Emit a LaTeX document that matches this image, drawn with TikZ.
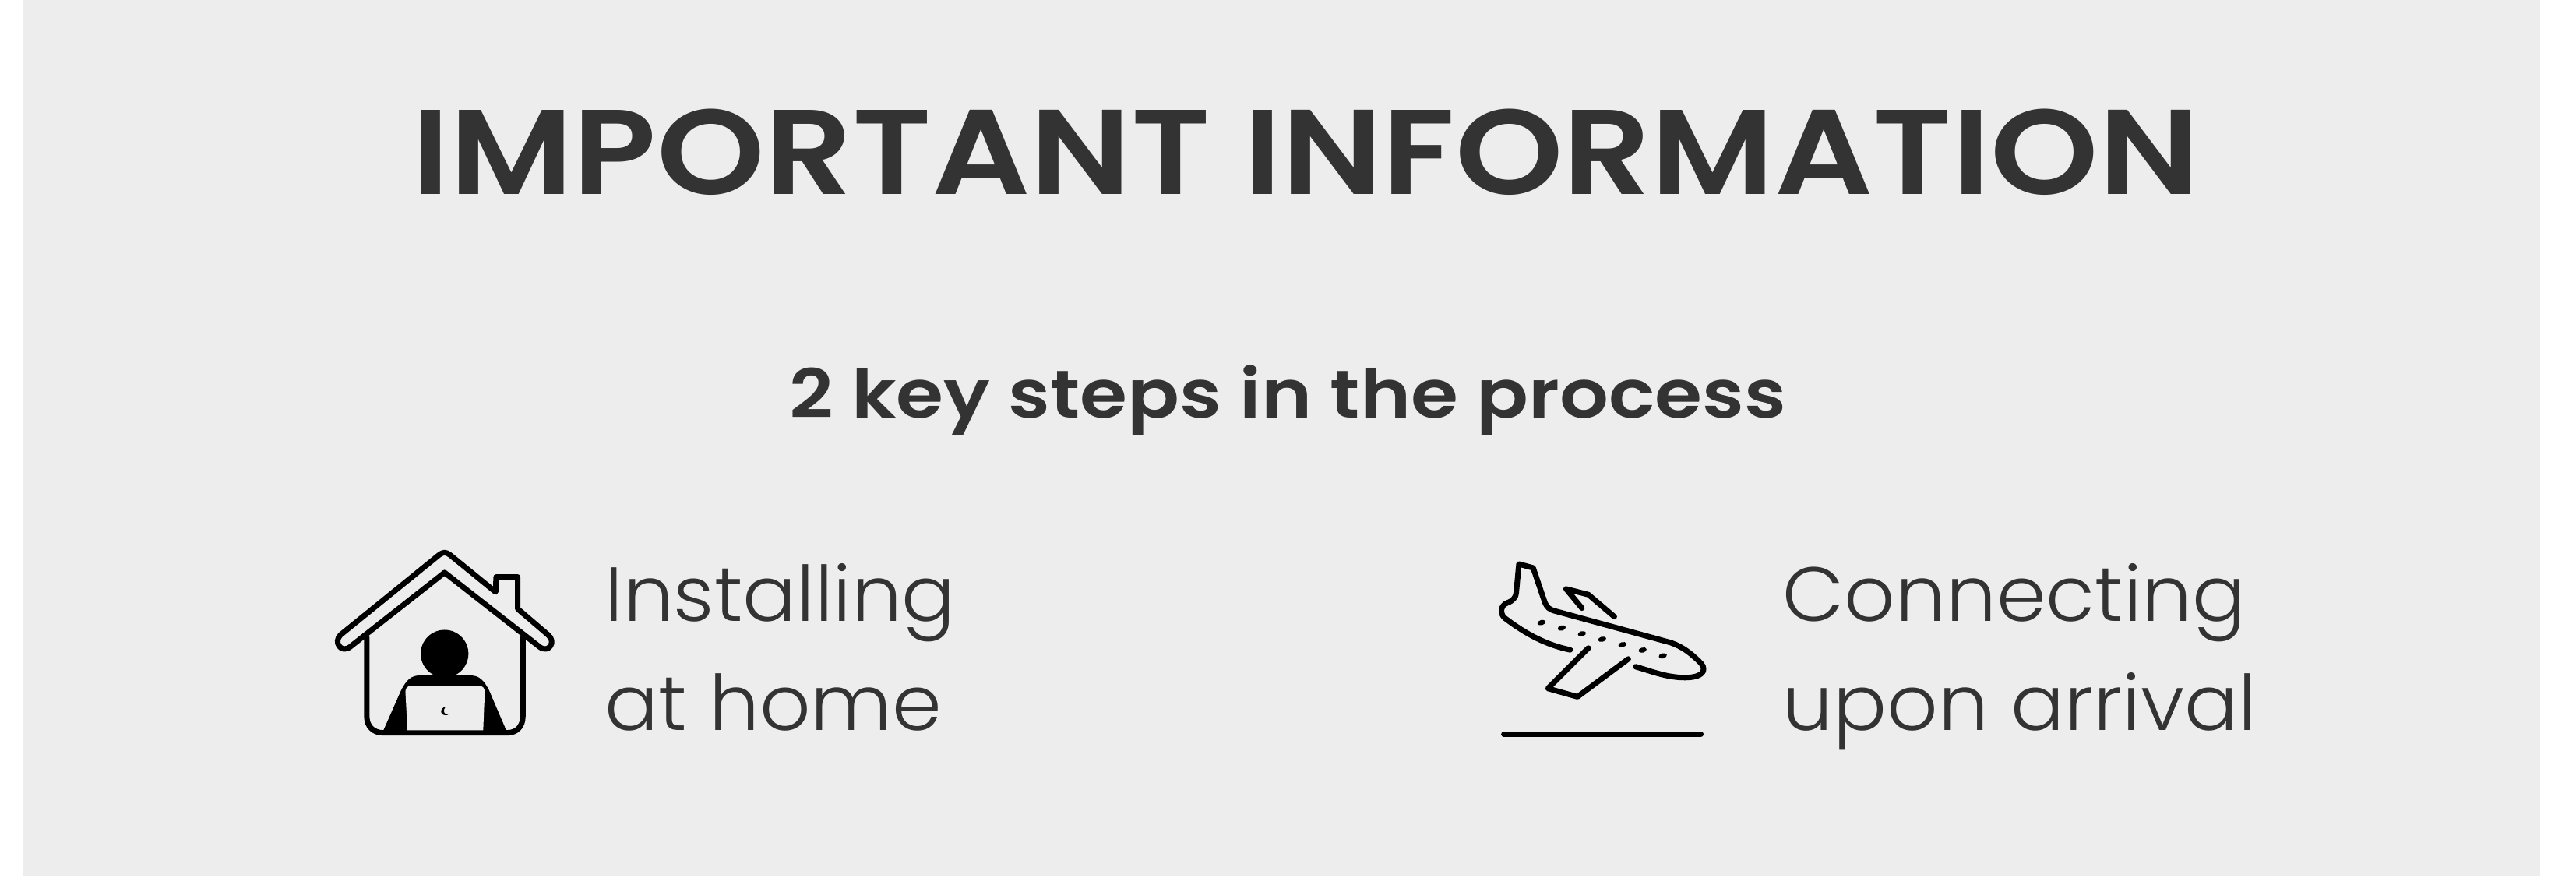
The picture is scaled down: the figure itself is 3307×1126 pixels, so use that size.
\documentclass[tikz,border=0pt]{standalone}
\usepackage{fontspec}
\setmainfont{Poppins}
\newfontfamily\lightfont[FakeStretch=1.04]{Poppins Light}
\newfontfamily\boldfont[FakeStretch=1.14]{Poppins SemiBold}
\definecolor{panel}{HTML}{EDEDED}
\definecolor{ink}{HTML}{333333}
\tikzset{
  titlelabel/.style={text=ink,inner sep=0pt,anchor=base,font=\boldfont\fontsize{44}{50}\selectfont},
  headlabel/.style={text=ink,inner sep=0pt,anchor=base,font=\boldfont\fontsize{24.6}{30}\selectfont},
  steplabel/.style={text=ink,inner sep=0pt,anchor=base west,font=\lightfont\fontsize{28}{39}\selectfont},
  iconline/.style={draw=black,line width=2pt,line cap=round,line join=round},
  iconshift/.style={x=0.003333cm,y=-0.003333cm}
}
\begin{document}
\begin{tikzpicture}[x=0.01cm,y=-0.01cm]
\useasboundingbox (0,0) rectangle (3307,1126);
\fill[panel] (29,0) rectangle (3261,1124);
\node[titlelabel] (title) at (1676,249) {IMPORTANT INFORMATION};
\node[headlabel] (head) at (1653,536) {2 key steps in the process};
% house
\begin{scope}[shift={(400,680)},iconshift]
\draw[iconline] (492,97) .. controls (508,85) and (518,85) .. (534,97) -- (710,240) -- (712,182) -- (795,182) -- (795,305) -- (912,405)
  .. controls (945,432) and (915,478) .. (880,452) -- (513,165) -- (148,452)
  .. controls (113,478) and (83,432) .. (112,405) -- cycle;
\draw[iconline] (213,415) -- (213,720) .. controls (213,760) and (240,783) .. (275,783)
  -- (755,783) .. controls (790,783) and (815,760) .. (815,720) -- (815,415);
\fill (513,478) circle (92);
\fill (273,783) -- (345,620) .. controls (365,580) and (385,562) .. (415,562) -- (615,562)
  .. controls (645,562) and (665,580) .. (685,620) -- (755,783) -- cycle;
\fill[panel] (370,773) -- (362,625) .. controls (362,610) and (370,602) .. (385,602) -- (645,602)
  .. controls (660,602) and (668,610) .. (668,625) -- (662,773) -- cycle;
\fill (517,682) .. controls (490,690) and (495,722) .. (528,714) .. controls (510,716) and (505,695) .. (517,682) -- cycle;
\end{scope}
% plane
\begin{scope}[shift={(1900,700)},iconshift]
\draw[iconline] (348,403) .. controls (260,385) and (180,345) .. (95,280)
  .. controls (75,262) and (80,230) .. (105,222) .. controls (125,215) and (140,200) .. (140,180)
  -- (150,72) -- (205,87) -- (250,220) .. controls (258,240) and (270,248) .. (285,252)
  -- (735,375) .. controls (780,390) and (820,420) .. (855,458)
  .. controls (875,485) and (855,510) .. (790,510) .. controls (720,510) and (660,485) .. (600,468);
\draw[iconline] (393,242) -- (332,168) -- (418,190) -- (518,275);
\draw[iconline] (418,396) -- (262,552) -- (376,584) -- (572,438);
\foreach \px/\py in {237/298,315/319,393/341,471/362,549/383,627/404,705/426}
  \fill[rotate around={15:(\px,\py)}] (\px,\py) ellipse (16 and 10);
\draw[iconline] (92,728) -- (852,728);
\end{scope}
\node[steplabel] (homea) at (776,797) {Installing};
\node[steplabel] (homeb) at (776,937) {at home};
\node[steplabel] (arrivala) at (2288,797) {Connecting};
\node[steplabel] (arrivalb) at (2288,937) {upon arrival};
\end{tikzpicture}
\end{document}
